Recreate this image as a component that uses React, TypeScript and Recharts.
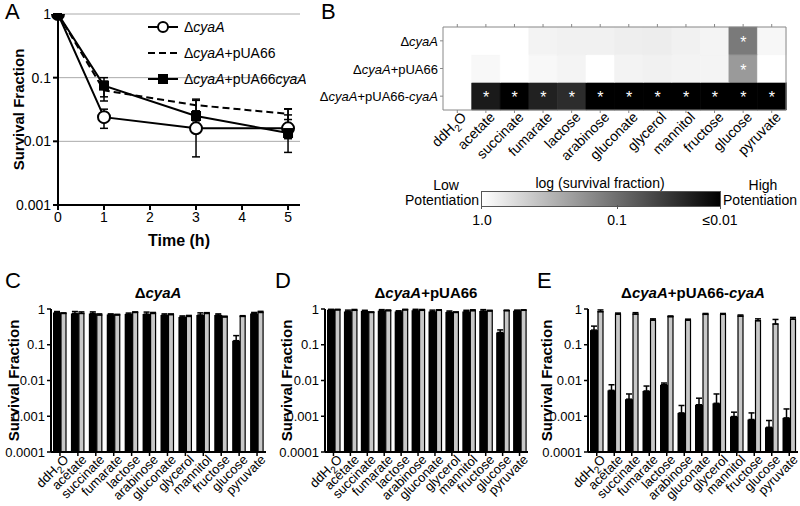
import React from 'react';
import { LineChart, Line, BarChart, Bar, XAxis, YAxis, CartesianGrid, ErrorBar, Cell, LabelList } from 'recharts';

const FONT = '"Liberation Sans", Arial, sans-serif';

// ---- panel A: survival over time ----
const timePoints = [0, 1, 3, 5];
const cyaA = [1, 0.024, 0.016, 0.016];
const cyaAErr = [[0, 0], [0.008, 0.008], [0.0103, 0.028], [0.005, 0.01]];
const pUA66 = [1, 0.063, 0.037, 0.027];
const pUA66Err = [[0, 0], [0.02, 0.025], [0.007, 0.009], [0.005, 0.005]];
const pUA66cyaA = [1, 0.075, 0.025, 0.0135];
const pUA66cyaAErr = [[0, 0], [0.025, 0.025], [0.004, 0.005], [0.0068, 0.019]];

// ---- carbon sources ----
const carbonSources = ['ddH2O', 'acetate', 'succinate', 'fumarate', 'lactose', 'arabinose', 'gluconate', 'glycerol', 'mannitol', 'fructose', 'glucose', 'pyruvate'];
const strains = ['ΔcyaA', 'ΔcyaA+pUA66', 'ΔcyaA+pUA66-cyaA'];

// ---- panel B: heatmap (survival fraction read from shade) ----
const heatCyaA = [1.0, 1.0, 1.0, 0.8, 0.78, 0.78, 0.74, 0.72, 0.78, 0.82, 0.09, 0.86];
const heatPUA66 = [1.0, 0.88, 1.0, 0.88, 0.82, 1.0, 0.8, 0.78, 0.8, 0.82, 0.16, 1.0];
const heatPUA66cyaA = [1.0, 0.016, 0.005, 0.018, 0.022, 0.004, 0.005, 0.004, 0.003, 0.003, 0.002, 0.003];
const starCyaA = [0, 0, 0, 0, 0, 0, 0, 0, 0, 0, 1, 0];
const starPUA66 = [0, 0, 0, 0, 0, 0, 0, 0, 0, 0, 1, 0];
const starPUA66cyaA = [0, 1, 1, 1, 1, 1, 1, 1, 1, 1, 1, 1];

// ---- panels C-E: black = metabolite, gray = control ----
const cBlack = [0.8, 0.75, 0.75, 0.7, 0.72, 0.72, 0.68, 0.6, 0.68, 0.68, 0.13, 0.75];
const cBlackErr = [0.05, 0.1, 0.08, 0.03, 0.05, 0.1, 0.05, 0.04, 0.1, 0.05, 0.05, 0.05];
const cGray = [0.75, 0.75, 0.68, 0.68, 0.8, 0.75, 0.7, 0.62, 0.75, 0.6, 0.62, 0.8];
const cGrayErr = [0.03, 0.08, 0.05, 0.03, 0.03, 0.05, 0.03, 0.04, 0.04, 0.03, 0.03, 0.06];

const dBlack = [0.95, 0.85, 0.88, 0.9, 0.85, 0.92, 0.85, 0.82, 0.85, 0.88, 0.22, 0.9];
const dBlackErr = [0.03, 0.08, 0.04, 0.06, 0.04, 0.06, 0.08, 0.06, 0.07, 0.08, 0.04, 0.03];
const dGray = [0.95, 0.92, 0.8, 0.9, 0.95, 0.92, 0.92, 0.8, 0.9, 0.88, 0.9, 0.92];
const dGrayErr = [0.03, 0.05, 0.03, 0.04, 0.03, 0.05, 0.03, 0.03, 0.05, 0.04, 0.03, 0.03];

const eBlack = [0.257, 0.0053, 0.003, 0.0051, 0.0076, 0.00124, 0.0021, 0.0023, 0.00098, 0.00081, 0.00049, 0.0009];
const eBlackErr = [0.075, 0.0023, 0.0012, 0.0019, 0.0009, 0.00076, 0.0011, 0.0019, 0.00032, 0.00043, 0.00027, 0.0007];
const eGray = [0.84, 0.72, 0.72, 0.49, 0.61, 0.49, 0.71, 0.71, 0.63, 0.47, 0.38, 0.52];
const eGrayErr = [0.1, 0.05, 0.07, 0.04, 0.03, 0.03, 0.04, 0.04, 0.05, 0.06, 0.13, 0.06];

const strainText = (s: string, svg: boolean) =>
  s.split(/(cyaA)/).filter(Boolean).map((p, i) =>
    svg
      ? <tspan key={i} fontStyle={p === 'cyaA' ? 'italic' : 'normal'}>{p}</tspan>
      : <span key={i} style={{ fontStyle: p === 'cyaA' ? 'italic' : 'normal' }}>{p}</span>
  );

const shade = (v: number) => {
  const d = Math.min(1, Math.max(0, -Math.log10(v) / 2));
  const g = Math.round(255 * (1 - d));
  return `rgb(${g},${g},${g})`;
};

const YLabel = (props: any) => {
  const { viewBox, x0 } = props;
  const cy = viewBox.y + viewBox.height / 2;
  return (
    <text x={x0} y={cy} transform={`rotate(-90 ${x0} ${cy})`} textAnchor="middle" dominantBaseline="central"
      fontSize={15} fontWeight="bold" fontFamily={FONT} fill="#000">Survival Fraction</text>
  );
};

const SourceTick = (props: any) => {
  const { x, y, payload, size = 14 } = props;
  const v = payload.value;
  return (
    <g transform={`translate(${x + 3},${y - 4})`}>
      <text transform="rotate(-45)" textAnchor="end" fontSize={size} fontFamily={FONT} fill="#000" dy="0.7em">
        {v === 'ddH2O'
          ? <>ddH<tspan fontSize={10} dy={4}>2</tspan><tspan dy={-4}>O</tspan></>
          : v}
      </text>
    </g>
  );
};

const RowTick = (props: any) => {
  const { x, y, payload } = props;
  const idx = 2 - Math.floor(payload.value);
  return (
    <text x={x} y={y} textAnchor="end" dominantBaseline="central" fontSize={13} fontFamily={FONT} fill="#000">
      {strainText(strains[idx], true)}
    </text>
  );
};

const Square = (props: any) => {
  const { cx, cy } = props;
  return <rect x={cx - 5} y={cy - 5} width={10} height={10} fill="#000" />;
};

const logTicksA = [0.001, 0.01, 0.1, 1];
const logTicksBar = [0.0001, 0.001, 0.01, 0.1, 1];
const fmt = (v: number) => String(v);

function PanelA() {
  const data = timePoints.map((t, i) => ({
    t, a: cyaA[i], aErr: cyaAErr[i], b: pUA66[i], bErr: pUA66Err[i], c: pUA66cyaA[i], cErr: pUA66cyaAErr[i],
  }));
  return (
    <div style={{ position: 'absolute', left: 0, top: 0 }}>
      <LineChart width={310} height={250} data={data} margin={{ top: 14, right: 10, bottom: 0, left: 0 }}>
        <CartesianGrid vertical={false} stroke="#aaa" strokeWidth={1} />
        <XAxis dataKey="t" type="number" domain={[0, 5.26]} ticks={[0, 1, 2, 3, 4, 5]} height={45}
          tick={{ fontSize: 14, fill: '#000', fontFamily: FONT }} tickSize={5}
          axisLine={{ stroke: '#000', strokeWidth: 2 }} tickLine={{ stroke: '#000', strokeWidth: 2 }}
          label={{ value: 'Time (h)', position: 'insideBottom', offset: 4, fontSize: 16, fontWeight: 'bold', fill: '#000', fontFamily: FONT }} />
        <YAxis type="number" scale="log" domain={[0.001, 1]} ticks={logTicksA} allowDataOverflow width={58}
          tickFormatter={fmt} tick={{ fontSize: 14, fill: '#000', fontFamily: FONT }} tickSize={5}
          axisLine={{ stroke: '#000', strokeWidth: 2 }} tickLine={{ stroke: '#000', strokeWidth: 2 }}
          label={<YLabel x0={18} />} />
        <Line dataKey="a" stroke="#000" strokeWidth={2} isAnimationActive={false}
          dot={{ r: 6, fill: '#fff', stroke: '#000', strokeWidth: 2 }}>
          <ErrorBar dataKey="aErr" direction="y" width={4} stroke="#000" strokeWidth={1.5} />
        </Line>
        <Line dataKey="b" stroke="#000" strokeWidth={2} strokeDasharray="7 4" isAnimationActive={false} dot={false}>
          <ErrorBar dataKey="bErr" direction="y" width={4} stroke="#000" strokeWidth={1.5} />
        </Line>
        <Line dataKey="c" stroke="#000" strokeWidth={2} isAnimationActive={false} dot={<Square />}>
          <ErrorBar dataKey="cErr" direction="y" width={4} stroke="#000" strokeWidth={1.5} />
        </Line>
      </LineChart>
    </div>
  );
}

function LegendA() {
  const rows = [19, 45, 71];
  return (
    <svg width={160} height={85} style={{ position: 'absolute', left: 146, top: 8 }}>
      <line x1={2} x2={32} y1={rows[0]} y2={rows[0]} stroke="#000" strokeWidth={2} />
      <circle cx={17} cy={rows[0]} r={5} fill="#fff" stroke="#000" strokeWidth={2} />
      <line x1={2} x2={32} y1={rows[1]} y2={rows[1]} stroke="#000" strokeWidth={2} strokeDasharray="7 4" />
      <line x1={2} x2={32} y1={rows[2]} y2={rows[2]} stroke="#000" strokeWidth={2} />
      <rect x={12} y={rows[2] - 5} width={10} height={10} fill="#000" />
      {['ΔcyaA', 'ΔcyaA+pUA66', 'ΔcyaA+pUA66cyaA'].map((s, i) => (
        <text key={s} x={38} y={rows[i]} dominantBaseline="central" fontSize={14} fontFamily={FONT} fill="#000">
          {strainText(s, true)}
        </text>
      ))}
    </svg>
  );
}

function PanelB() {
  const data = carbonSources.map((name, i) => ({
    name,
    s1: starCyaA[i] ? '*' : '', s2: starPUA66[i] ? '*' : '', s3: starPUA66cyaA[i] ? '*' : '',
  }));
  const rows = [
    { key: 's3', vals: heatPUA66cyaA },
    { key: 's2', vals: heatPUA66 },
    { key: 's1', vals: heatCyaA },
  ];
  const star = (p: any) => p.value
    ? <text x={p.x + p.width / 2} y={p.y + p.height / 2 + 7} textAnchor="middle" fontSize={16} fill="#fff" fontFamily={FONT}>*</text>
    : null;
  return (
    <div style={{ position: 'absolute', left: 300, top: 0 }}>
      <BarChart width={500} height={172} data={data} margin={{ top: 22, right: 0, bottom: 0, left: 0 }} barCategoryGap={0}>
        <XAxis dataKey="name" interval={0} height={62} tick={<SourceTick size={14} />} tickSize={3}
          axisLine={{ stroke: '#888' }} tickLine={{ stroke: '#888' }} />
        <XAxis xAxisId="top" dataKey="name" orientation="top" interval={0} height={5} tick={() => <g />} tickSize={3}
          axisLine={{ stroke: '#888' }} tickLine={{ stroke: '#888' }} />
        <YAxis type="number" domain={[0, 3]} ticks={[0.5, 1.5, 2.5]} width={143} tick={<RowTick />} tickSize={3}
          axisLine={{ stroke: '#888' }} tickLine={{ stroke: '#888' }} />
        <YAxis yAxisId="r" orientation="right" type="number" domain={[0, 3]} ticks={[0.5, 1.5, 2.5]} width={14}
          tick={() => <g />} tickSize={3} axisLine={{ stroke: '#888' }} tickLine={{ stroke: '#888' }} />
        {rows.map((r) => (
          <Bar key={r.key} dataKey={() => 1} stackId="h" isAnimationActive={false}>
            {r.vals.map((v, i) => <Cell key={i} fill={shade(v)} stroke={shade(v)} strokeWidth={0.5} />)}
            <LabelList dataKey={r.key} content={star} />
          </Bar>
        ))}
      </BarChart>
    </div>
  );
}

function ColorBar() {
  const txt: React.CSSProperties = { position: 'absolute', fontSize: 14, fontFamily: FONT, color: '#000', whiteSpace: 'nowrap', lineHeight: '15px' };
  return (
    <>
      <div style={{ ...txt, left: 600, top: 176, transform: 'translateX(-50%)' }}>log (survival fraction)</div>
      <div style={{ ...txt, left: 446, top: 178, transform: 'translateX(-50%)' }}>Low</div>
      <div style={{ ...txt, left: 442, top: 193, transform: 'translateX(-50%)' }}>Potentiation</div>
      <div style={{ ...txt, left: 763, top: 178, transform: 'translateX(-50%)' }}>High</div>
      <div style={{ ...txt, left: 760, top: 193, transform: 'translateX(-50%)' }}>Potentiation</div>
      <div style={{ position: 'absolute', left: 481, top: 191, width: 238, height: 14, border: '1px solid #555',
        background: 'linear-gradient(to right, #fff, #000)' }} />
      {[481, 617, 720].map((x) => (
        <div key={x} style={{ position: 'absolute', left: x, top: 205, width: 1, height: 4, background: '#555' }} />
      ))}
      <div style={{ ...txt, left: 482, top: 213, transform: 'translateX(-50%)' }}>1.0</div>
      <div style={{ ...txt, left: 617, top: 213, transform: 'translateX(-50%)' }}>0.1</div>
      <div style={{ ...txt, left: 720, top: 213, transform: 'translateX(-50%)' }}>≤0.01</div>
    </>
  );
}

function BarPanel(props: {
  left: number; width: number; axisWidth: number; right: number; labelX: number;
  black: number[]; blackErr: number[]; gray: number[]; grayErr: number[];
}) {
  const { left, width, axisWidth, right, labelX, black, blackErr, gray, grayErr } = props;
  const data = carbonSources.map((name, i) => ({
    name, black: black[i], blackErr: [0, blackErr[i]], gray: gray[i], grayErr: [0, grayErr[i]],
  }));
  return (
    <div style={{ position: 'absolute', left, top: 280 }}>
      <BarChart width={width} height={226} data={data} margin={{ top: 29, right, bottom: 0, left: 0 }} barGap={0}>
        <XAxis dataKey="name" interval={0} height={54} tick={<SourceTick size={13} />} tickSize={4}
          axisLine={{ stroke: '#000', strokeWidth: 2 }} tickLine={{ stroke: '#000', strokeWidth: 1.5 }} />
        <YAxis type="number" scale="log" domain={[0.0001, 1]} ticks={logTicksBar} allowDataOverflow width={axisWidth}
          tickFormatter={fmt} tick={{ fontSize: 13, fill: '#000', fontFamily: FONT }} tickSize={4}
          axisLine={{ stroke: '#000', strokeWidth: 2 }} tickLine={{ stroke: '#000', strokeWidth: 1.5 }}
          label={<YLabel x0={labelX} />} />
        <Bar dataKey="black" fill="#000" barSize={8} isAnimationActive={false}>
          <ErrorBar dataKey="blackErr" direction="y" width={3} stroke="#000" strokeWidth={1.5} />
        </Bar>
        <Bar dataKey="gray" fill="#c8c8c8" stroke="#000" strokeWidth={1.2} barSize={5} isAnimationActive={false}>
          <ErrorBar dataKey="grayErr" direction="y" width={3} stroke="#000" strokeWidth={1.5} />
        </Bar>
      </BarChart>
    </div>
  );
}

const letter = (l: string, left: number, top: number) => (
  <div style={{ position: 'absolute', left, top, fontSize: 22, fontFamily: FONT, lineHeight: '22px' }}>{l}</div>
);

const title = (s: string, cx: number) => (
  <div style={{ position: 'absolute', left: cx, top: 285, transform: 'translateX(-50%)', fontSize: 15, fontWeight: 'bold',
    fontFamily: FONT, whiteSpace: 'nowrap', lineHeight: '16px' }}>{strainText(s, false)}</div>
);

export default function App() {
  return (
    <div style={{ position: 'absolute', left: 0, top: 0, width: 800, height: 506, background: '#fff', overflow: 'hidden', fontFamily: FONT }}>
      <PanelA />
      <LegendA />
      <PanelB />
      <ColorBar />
      <BarPanel left={0} width={270} axisWidth={51} right={4} labelX={13} black={cBlack} blackErr={cBlackErr} gray={cGray} grayErr={cGrayErr} />
      <BarPanel left={270} width={262} axisWidth={55} right={4} labelX={16} black={dBlack} blackErr={dBlackErr} gray={dGray} grayErr={dGrayErr} />
      <BarPanel left={532} width={268} axisWidth={56} right={2} labelX={14} black={eBlack} blackErr={eBlackErr} gray={eGray} grayErr={eGrayErr} />
      {title('ΔcyaA', 158)}
      {title('ΔcyaA+pUA66', 426)}
      {title('ΔcyaA+pUA66-cyaA', 693)}
      {letter('A', 5, 1)}
      {letter('B', 321, 1)}
      {letter('C', 5, 270)}
      {letter('D', 275, 270)}
      {letter('E', 537, 270)}
    </div>
  );
}
